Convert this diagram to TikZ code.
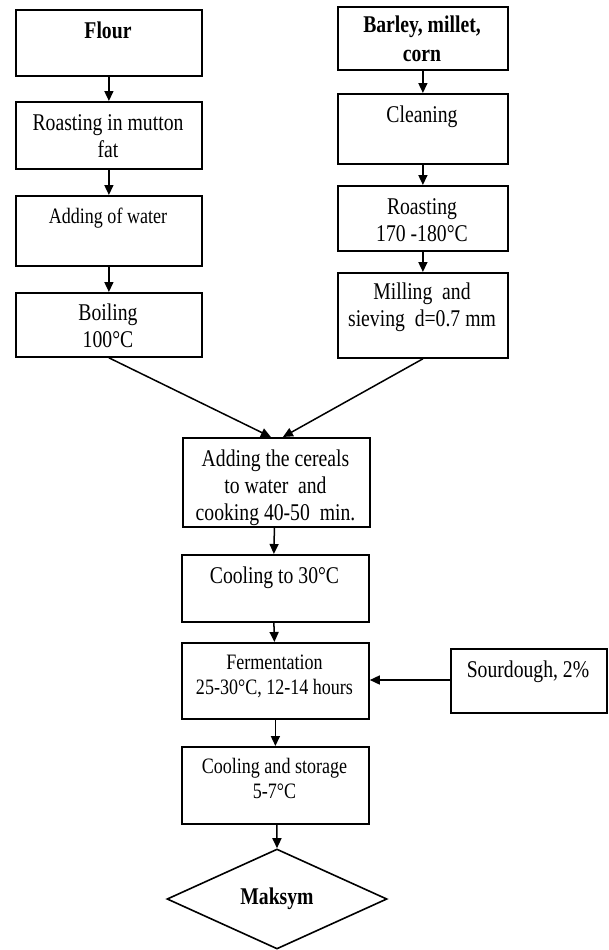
\documentclass[tikz,border=0pt]{standalone}
\usepackage{fontspec}
\setmainfont{Liberation Serif}[FakeStretch=0.82]
\usetikzlibrary{arrows.meta,shapes.geometric}
\tikzset{
  box/.style={draw, line width=1.8pt, inner sep=0pt, anchor=north west},
  txt/.style={anchor=base, align=center, inner sep=0pt, font=\fontsize{24}{27}\selectfont},
  stxt/.style={txt, font=\fontsize{22}{25}\selectfont},
  btxt/.style={txt, font=\fontsize{24}{29}\selectfont\bfseries},
  arr/.style={-{Triangle[length=10pt,width=9pt]}, line width=1.5pt},
}
\begin{document}
\begin{tikzpicture}[x=1pt,y=-1pt]
\useasboundingbox (0,0) rectangle (608,950);
% left column
\node[box, minimum width=186pt, minimum height=66pt] (flour) at (15,9) {};
\node[btxt] (flourt) at (108,39) {Flour};
\node[box, minimum width=186pt, minimum height=67pt] (roast) at (15,101) {};
\node[txt] (roastt) at (108,157) {Roasting in mutton\\fat};
\node[box, minimum width=186pt, minimum height=70pt] (water) at (15,195) {};
\node[stxt] (watert) at (108,223) {Adding of water};
\node[box, minimum width=186pt, minimum height=64pt] (boil) at (15,292) {};
\node[txt] (boilt) at (108,347) {Boiling\\100°C};
% right column
\node[box, minimum width=170pt, minimum height=63pt] (barley) at (337,6) {};
\node[btxt] (barleyt) at (422,62) {Barley, millet,\\corn};
\node[box, minimum width=170pt, minimum height=70pt] (clean) at (337,93) {};
\node[txt] (cleant) at (422,122) {Cleaning};
\node[box, minimum width=170pt, minimum height=65pt] (roastb) at (337,185) {};
\node[txt] (roastbt) at (422,241) {Roasting\\170 -180°C};
\node[box, minimum width=170pt, minimum height=85pt] (mill) at (337,272) {};
\node[txt] (millt) at (422,326) {Milling\ \ and\\sieving\ \ d=0.7 mm};
% middle
\node[box, minimum width=187pt, minimum height=89pt] (add) at (182,437) {};
\node[txt] (addt) at (275.5,520) {Adding the cereals\\to water\ \ and\\cooking 40-50\ \ min.};
\node[box, minimum width=187pt, minimum height=67pt] (cool) at (181,554) {};
\node[txt] (coolt) at (274.5,583) {Cooling to 30°C};
\node[box, minimum width=187pt, minimum height=76pt] (ferm) at (181,642) {};
\node[stxt] (fermt) at (274.5,694) {Fermentation\\25-30°C, 12-14 hours};
\node[box, minimum width=187pt, minimum height=77pt] (store) at (181,746) {};
\node[stxt] (storet) at (274.5,798) {Cooling and storage\\5-7°C};
\node[box, minimum width=156pt, minimum height=64pt] (sour) at (450,648) {};
\node[txt] (sourt) at (528,677) {Sourdough, 2\%};
\node[draw, diamond, line width=1.6pt, inner sep=0pt, minimum width=220pt, minimum height=100pt] (maksym) at (277,899) {};
\node[btxt, anchor=center] (maksymt) at (277,899) {Maksym};
% connectors
\draw[arr] (flour.south) -- (roast.north);
\draw[arr] (roast.south) -- (water.north);
\draw[arr] (water.south) -- (boil.north);
\draw[arr] (barley.south) -- (clean.north);
\draw[arr] (clean.south) -- (roastb.north);
\draw[arr] (roastb.south) -- (mill.north);
\draw[arr] (boil.south) -- ([xshift=-5.5pt]add.north);
\draw[arr] (mill.south) -- ([xshift=6.5pt]add.north);
\draw[arr] ([xshift=-2pt]add.south) -- ([xshift=-1.5pt]cool.north);
\draw[arr] ([xshift=-1.5pt]cool.south) -- ([xshift=-1pt]ferm.north);
\draw[arr] (ferm.south) -- (store.north);
\draw[arr] ([xshift=1.5pt]store.south) -- (maksym.north);
\draw[arr] (sour.west |- 0,680) -- (ferm.east |- 0,680);
\end{tikzpicture}
\end{document}
